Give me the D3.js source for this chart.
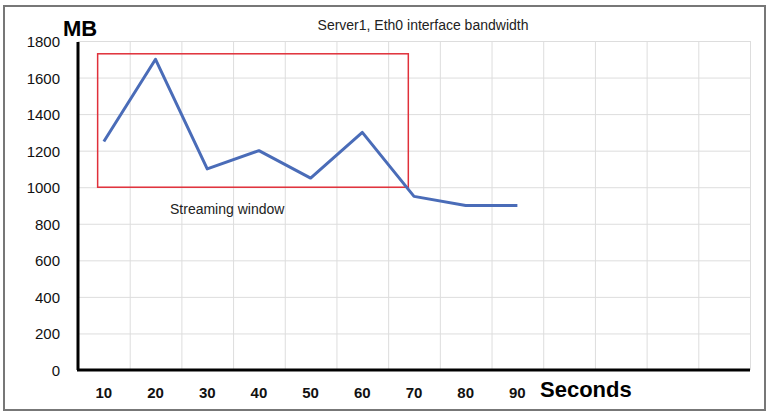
<!DOCTYPE html>
<html><head><meta charset="utf-8">
<script src="https://cdn.jsdelivr.net/npm/d3@7"></script>
<style>body{margin:0;background:#fff}svg{display:block;font-family:"Liberation Sans",Arial,sans-serif}</style>
</head><body><div id="chart"></div>
<script>
const seconds = [10, 20, 30, 40, 50, 60, 70, 80, 90];
const bandwidth = [1250, 1700, 1100, 1200, 1050, 1300, 950, 900, 900];
const yTicks = [0, 200, 400, 600, 800, 1000, 1200, 1400, 1600, 1800];
const windowRange = { x0: 8.8, x1: 68.9, y0: 1000, y1: 1730 };

const W = 769, H = 418;
const svg = d3.select('#chart').append('svg').attr('width', W).attr('height', H);

const x = d3.scaleLinear().domain([5, 135]).range([78, 750]);
const y = d3.scaleLinear().domain([0, 1800]).range([370, 41]);

// frame
svg.append('rect').attr('x', 4).attr('y', 6).attr('width', 761).attr('height', 404)
    .attr('fill', '#fff').attr('stroke', '#777').attr('stroke-width', 2);

// grid
svg.append('g').attr('class', 'grid')
    .attr('transform', 'translate(0,370)')
    .call(d3.axisBottom(x).tickValues(d3.range(15, 136, 10)).tickSize(-329).tickFormat(''))
    .call(g => g.select('.domain').remove())
    .call(g => g.selectAll('line').attr('stroke', '#ddd'));
svg.append('g')
    .attr('transform', 'translate(78,0)')
    .call(d3.axisLeft(y).tickValues(yTicks).tickSize(-672).tickFormat(''))
    .call(g => g.select('.domain').remove())
    .call(g => g.selectAll('line').attr('stroke', '#ddd'));

// axes
svg.append('line').attr('x1', 78).attr('x2', 78).attr('y1', 42).attr('y2', 370).attr('stroke', '#000').attr('stroke-width', 3);
svg.append('line').attr('x1', 77).attr('x2', 750).attr('y1', 370).attr('y2', 370).attr('stroke', '#000').attr('stroke-width', 3);

svg.append('g').selectAll('text').data(yTicks).join('text')
    .attr('x', 60).attr('y', d => y(d) + 6).attr('text-anchor', 'end')
    .attr('font-size', 15).attr('fill', '#111').text(d => d);
svg.append('g').selectAll('text').data(seconds).join('text')
    .attr('x', d => x(d)).attr('y', 398).attr('text-anchor', 'middle')
    .attr('font-size', 15).attr('font-weight', 'bold').attr('fill', '#111').text(d => d);

svg.append('text').attr('x', 63).attr('y', 36).attr('font-size', 22).attr('font-weight', 'bold').text('MB');
svg.append('text').attr('x', 540).attr('y', 397).attr('font-size', 22).attr('font-weight', 'bold').text('Seconds');
svg.append('text').attr('x', 423).attr('y', 30).attr('text-anchor', 'middle').attr('font-size', 14).attr('fill', '#222')
    .text('Server1, Eth0 interface bandwidth');

// streaming window
svg.append('rect')
    .attr('x', x(windowRange.x0)).attr('y', y(windowRange.y1))
    .attr('width', x(windowRange.x1) - x(windowRange.x0)).attr('height', y(windowRange.y0) - y(windowRange.y1))
    .attr('fill', 'none').attr('stroke', '#e0303a').attr('stroke-width', 1.5);
svg.append('text').attr('x', 170).attr('y', 214).attr('font-size', 14).attr('fill', '#222').text('Streaming window');

// line
svg.append('path').datum(seconds.map((s, i) => [s, bandwidth[i]]))
    .attr('fill', 'none').attr('stroke', '#4a6cb8').attr('stroke-width', 3).attr('stroke-linejoin', 'round')
    .attr('d', d3.line().x(d => x(d[0])).y(d => y(d[1])));
</script></body></html>
